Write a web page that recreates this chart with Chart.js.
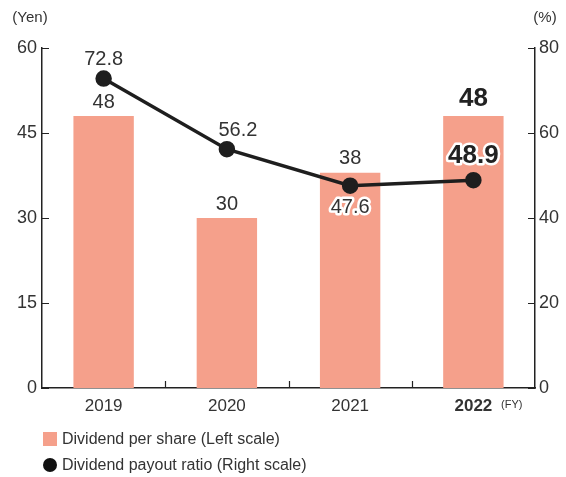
<!DOCTYPE html>
<html lang="en">
<head>
  <meta charset="UTF-8">
  <title>Dividends</title>
  <script src="https://cdn.jsdelivr.net/npm/chart.js"></script>
  <style>
    html, body {
      margin: 0;
      padding: 0;
      background: #fff;
    }
    #wrap {
      width: 566px;
      height: 477px;
      position: relative;
    }
  </style>
</head>
<body>
  <div id="wrap"><canvas id="divChart"></canvas></div>

  <script>
    const years = ['2019', '2020', '2021', '2022'];
    const dividendPerShare = [48, 30, 38, 48];
    const payoutRatio = [72.8, 56.2, 47.6, 48.9];
    const yenTicks = [0, 15, 30, 45, 60];
    const pctTicks = [0, 20, 40, 60, 80];

    const FONT = '"Liberation Sans", Arial, sans-serif';
    const TEXT = '#333';
    const BAR = '#f5a08b';
    const LINE = '#1e1e1e';

    // value labels, axis units, inward ticks and the legend
    const extras = {
      id: 'extras',
      afterDatasetsDraw(chart) {
        const ctx = chart.ctx;
        const barMeta = chart.getDatasetMeta(1);
        const lineMeta = chart.getDatasetMeta(0);
        ctx.save();
        ctx.textAlign = 'center';
        ctx.textBaseline = 'middle';

        barMeta.data.forEach((bar, i) => {
          const last = i === years.length - 1;
          ctx.font = (last ? 'bold 26px ' : '20px ') + FONT;
          ctx.fillStyle = last ? '#222' : TEXT;
          ctx.fillText(String(dividendPerShare[i]), bar.x, bar.y - (last ? 17 : 14));
        });

        const lineOffsets = [[0, -19], [11, -19], [0, 22], [0, -24]];
        lineMeta.data.forEach((pt, i) => {
          const last = i === years.length - 1;
          const txt = payoutRatio[i].toFixed(1);
          const x = pt.x + lineOffsets[i][0];
          const y = pt.y + lineOffsets[i][1];
          ctx.font = (last ? 'bold 26px ' : '20px ') + FONT;
          if (i >= 2) {
            ctx.lineJoin = 'round';
            ctx.lineWidth = 5;
            ctx.strokeStyle = '#fff';
            ctx.strokeText(txt, x, y);
          }
          ctx.fillStyle = last ? '#222' : TEXT;
          ctx.fillText(txt, x, y);
        });
        ctx.restore();
      },
      afterDraw(chart) {
        const ctx = chart.ctx;
        const area = chart.chartArea;
        const y = chart.scales.y;
        const y1 = chart.scales.y1;
        const x = chart.scales.x;
        ctx.save();
        ctx.strokeStyle = '#222';
        ctx.lineWidth = 1.2;
        ctx.beginPath();
        yenTicks.forEach(v => {
          const py = Math.round(y.getPixelForValue(v)) + 0.5;
          ctx.moveTo(area.left, py);
          ctx.lineTo(area.left + 7, py);
        });
        pctTicks.forEach(v => {
          const py = Math.round(y1.getPixelForValue(v)) + 0.5;
          ctx.moveTo(area.right, py);
          ctx.lineTo(area.right - 7, py);
        });
        for (let i = 1; i < years.length; i++) {
          const px = Math.round((x.getPixelForValue(i - 1) + x.getPixelForValue(i)) / 2) + 0.5;
          ctx.moveTo(px, area.bottom);
          ctx.lineTo(px, area.bottom - 7);
        }
        ctx.stroke();

        ctx.fillStyle = TEXT;
        ctx.textBaseline = 'middle';
        ctx.font = '15px ' + FONT;
        ctx.textAlign = 'center';
        ctx.fillText('(Yen)', 30, 18);
        ctx.fillText('(%)', 545, 18);
        ctx.font = '11px ' + FONT;
        ctx.textAlign = 'left';
        ctx.fillText('(FY)', 501, 405);

        // legend
        ctx.fillStyle = BAR;
        ctx.fillRect(43, 432, 14, 14);
        ctx.fillStyle = '#111';
        ctx.beginPath();
        ctx.arc(50, 465, 7, 0, Math.PI * 2);
        ctx.fill();
        ctx.fillStyle = TEXT;
        ctx.font = '16px ' + FONT;
        ctx.fillText('Dividend per share (Left scale)', 62, 440);
        ctx.fillText('Dividend payout ratio (Right scale)', 62, 466);
        ctx.restore();
      }
    };

    new Chart(document.getElementById('divChart'), {
      data: {
        labels: years,
        datasets: [
          {
            type: 'line',
            label: 'Dividend payout ratio (Right scale)',
            data: payoutRatio,
            yAxisID: 'y1',
            borderColor: LINE,
            borderWidth: 3.5,
            pointRadius: 6.5,
            pointBackgroundColor: LINE,
            pointBorderColor: LINE,
            tension: 0,
            order: 0
          },
          {
            type: 'bar',
            label: 'Dividend per share (Left scale)',
            data: dividendPerShare,
            yAxisID: 'y',
            backgroundColor: BAR,
            barPercentage: 0.49,
            categoryPercentage: 1,
            order: 1
          }
        ]
      },
      options: {
        responsive: true,
        maintainAspectRatio: false,
        animation: false,
        layout: { padding: { top: 48, bottom: 59, left: 0, right: 0 } },
        plugins: {
          legend: { display: false },
          tooltip: { enabled: false }
        },
        scales: {
          x: {
            offset: true,
            afterFit: s => { s.height = 30; },
            grid: { display: false, drawTicks: false },
            border: { display: true, color: '#222', width: 1.5 },
            ticks: {
              padding: 8,
              color: TEXT,
              font: c => ({
                family: FONT,
                size: 17,
                weight: c.index === years.length - 1 ? 'bold' : 'normal'
              })
            }
          },
          y: {
            position: 'left',
            min: 0,
            max: 60,
            afterFit: s => { s.width = 42; },
            afterBuildTicks: s => { s.ticks = yenTicks.map(v => ({ value: v })); },
            grid: { display: false, drawTicks: false },
            border: { display: true, color: '#222', width: 1.5 },
            ticks: { padding: 5, color: TEXT, font: { family: FONT, size: 18 } }
          },
          y1: {
            position: 'right',
            min: 0,
            max: 80,
            afterFit: s => { s.width = 31; },
            afterBuildTicks: s => { s.ticks = pctTicks.map(v => ({ value: v })); },
            grid: { display: false, drawTicks: false },
            border: { display: true, color: '#222', width: 1.5 },
            ticks: { padding: 4, color: TEXT, font: { family: FONT, size: 18 } }
          }
        }
      },
      plugins: [extras]
    });
  </script>
</body>
</html>
